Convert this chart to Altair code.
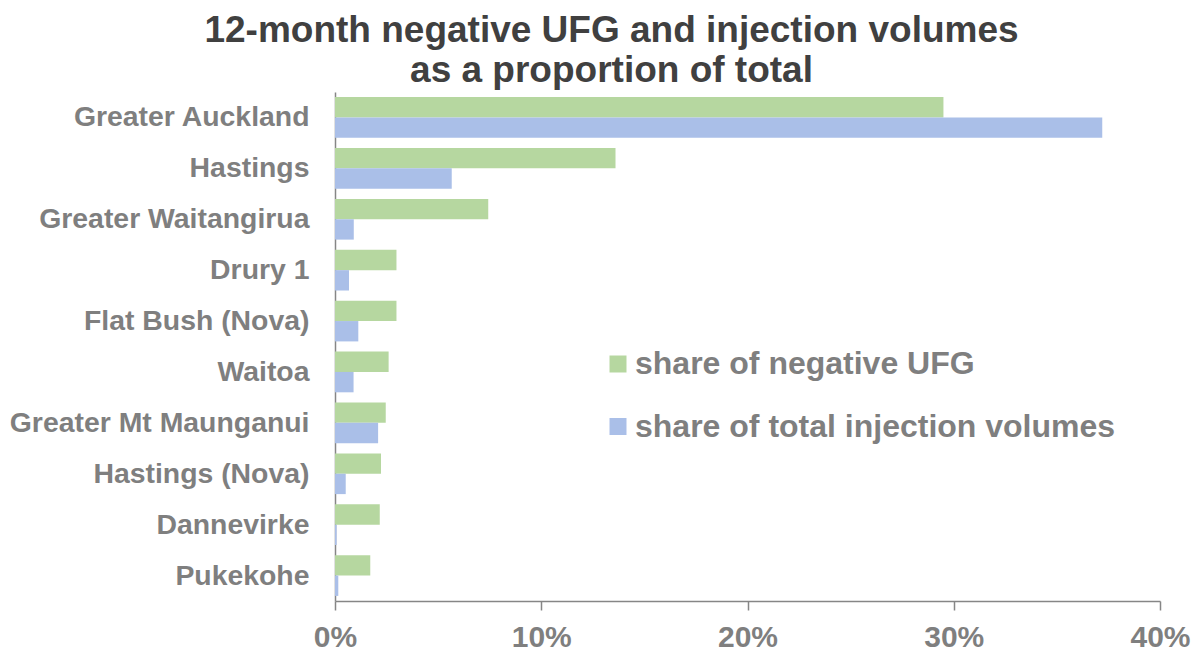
import altair as alt
import pandas as pd

categories = [
    "Greater Auckland",
    "Hastings",
    "Greater Waitangirua",
    "Drury 1",
    "Flat Bush (Nova)",
    "Waitoa",
    "Greater Mt Maunganui",
    "Hastings (Nova)",
    "Dannevirke",
    "Pukekohe",
]
ufg_share = [29.5, 13.6, 7.43, 2.98, 2.98, 2.6, 2.46, 2.23, 2.17, 1.71]
injection_share = [37.2, 5.66, 0.91, 0.68, 1.13, 0.9, 2.09, 0.52, 0.08, 0.16]
series_names = ["share of negative UFG", "share of total injection volumes"]
series_colors = ["#b6d7a0", "#aabfe8"]
x_ticks = [0, 10, 20, 30, 40]
title_lines = ["12-month negative UFG and injection volumes", "as a proportion of total"]

rows = []
for i, c in enumerate(categories):
    rows.append({"region": c, "series": series_names[0], "value": ufg_share[i]})
    rows.append({"region": c, "series": series_names[1], "value": injection_share[i]})
df = pd.DataFrame(rows)

FONT = "Liberation Sans"
GRAY = "#7f7f7f"
AXIS = "#868686"

chart = alt.Chart(df).mark_bar().encode(
    y=alt.Y(
        "region:N",
        sort=categories,
        title=None,
        scale=alt.Scale(paddingInner=0.2, paddingOuter=0.1),
        axis=alt.Axis(
            labelFont=FONT, labelFontSize=28.4, labelFontWeight="bold", labelColor=GRAY,
            ticks=False, tickSize=0, labelPadding=26, domainColor=AXIS, domainWidth=1.5,
            labelLimit=400, grid=False,
        ),
    ),
    yOffset=alt.YOffset("series:N", sort=series_names,
                        scale=alt.Scale(paddingInner=0, paddingOuter=0)),
    x=alt.X(
        "value:Q",
        title=None,
        scale=alt.Scale(domain=[0, 40], nice=False, zero=True),
        axis=alt.Axis(
            values=x_ticks, labelExpr="datum.value + '%'", grid=False,
            tickSize=9, tickColor=AXIS, tickWidth=1.5, domainColor=AXIS, domainWidth=1.5,
            labelFont=FONT, labelFontSize=30, labelFontWeight="bold", labelColor=GRAY,
            labelPadding=12, labelFlush=False,
        ),
    ),
    color=alt.Color(
        "series:N",
        sort=series_names,
        scale=alt.Scale(domain=series_names, range=series_colors),
        legend=alt.Legend(
            title=None, orient="none", legendX=267, legendY=256,
            symbolType="square", symbolSize=289, symbolStrokeWidth=0, symbolOpacity=1,
            labelFont=FONT, labelFontSize=32, labelFontWeight="bold", labelColor=GRAY,
            labelOffset=1, rowPadding=30.5, padding=0, labelLimit=600,
        ),
    ),
).properties(
    width=825,
    height=509,
    title=alt.Title(
        text=title_lines, font=FONT, fontSize=37, fontWeight="bold", color="#404040",
        anchor="middle", dx=-136, lineHeight=40, offset=2,
    ),
    padding={"left": 327, "top": 84, "right": 35, "bottom": 53},
    autosize=alt.AutoSizeParams(type="none"),
).configure_view(stroke=None)

chart.save("out.html", embed_options={"renderer": "svg", "actions": False})
